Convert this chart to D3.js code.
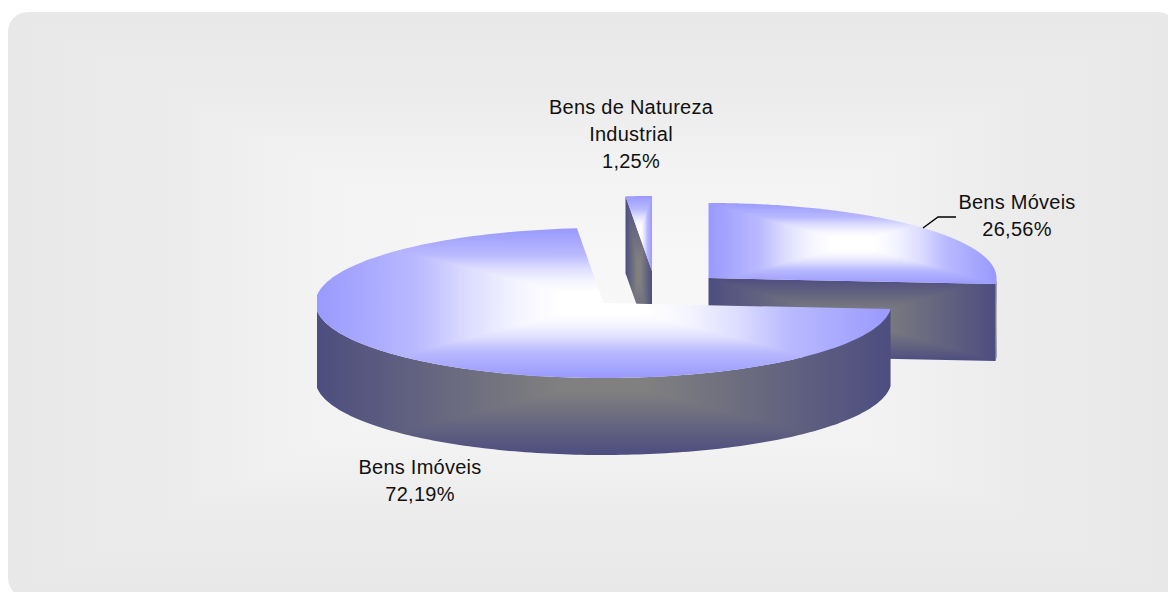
<!DOCTYPE html>
<html>
<head>
<meta charset="utf-8">
<script src="https://cdnjs.cloudflare.com/ajax/libs/d3/7.8.5/d3.min.js"></script>
<style>
html, body { margin: 0; padding: 0; background: #fff; }
svg { display: block; }
text { font-family: "Liberation Sans", Arial, sans-serif; font-size: 20px; letter-spacing: .25px; fill: #111; }
</style>
</head>
<body>
<script>
// chart values, pie order is clockwise from 12 o'clock
var categories = ["Bens Móveis", "Bens Imóveis", "Bens de Natureza Industrial"];
var percents = [26.56, 72.19, 1.25];
var labelLines = [["Bens Móveis"], ["Bens Imóveis"], ["Bens de Natureza", "Industrial"]];

var width = 1168;
var height = 592;
var rx = 288, ry = 75, depth = 77;

// where each exploded slice has its apex, and where its label goes
var apex = [[708.5, 278], [603.5, 303], [652, 271]];
var labelPos = [[1017, 209], [420, 474], [631, 114]];

var svg = d3.select("body").append("svg")
	.attr("width", width)
	.attr("height", height);

var defs = svg.append("defs");

// "from centre" fill: four triangles fading from the bbox edges to the middle
function boxFill(id, stops) {
	var sides = [
		{ pts: "0,0 .5,.5 0,1", x1: 0, y1: 0, x2: .5, y2: 0 },
		{ pts: "1,0 .5,.5 1,1", x1: 1, y1: 0, x2: .5, y2: 0 },
		{ pts: "0,0 .5,.5 1,0", x1: 0, y1: 0, x2: 0, y2: .5 },
		{ pts: "0,1 .5,.5 1,1", x1: 0, y1: 1, x2: 0, y2: .5 }
	];
	var pattern = defs.append("pattern")
		.attr("id", id)
		.attr("patternUnits", "objectBoundingBox")
		.attr("patternContentUnits", "objectBoundingBox")
		.attr("width", 1)
		.attr("height", 1);
	sides.forEach(function(s, i) {
		var grad = defs.append("linearGradient")
			.attr("id", id + "-g" + i)
			.attr("gradientUnits", "userSpaceOnUse")
			.attr("x1", s.x1).attr("y1", s.y1)
			.attr("x2", s.x2).attr("y2", s.y2);
		stops.forEach(function(st) {
			grad.append("stop").attr("offset", st[0]).attr("stop-color", st[1]);
		});
		pattern.append("polygon")
			.attr("points", s.pts)
			.attr("shape-rendering", "crispEdges")
			.attr("fill", "url(#" + id + "-g" + i + ")");
	});
}

boxFill("panel", [[0, "#e8e8e8"], [0.3, "#ececec"], [0.5, "#f2f2f2"], [0.8, "#f6f6f6"], [1, "#f8f8f8"]]);
boxFill("top", [[0, "#9999ff"], [0.35, "#b9b9ff"], [0.53, "#dcdcff"], [0.7, "#f4f4ff"], [0.85, "#ffffff"], [1, "#ffffff"]]);
boxFill("side", [[0, "#4d4d80"], [0.85, "#808080"], [1, "#808080"]]);

defs.append("clipPath").attr("id", "pieClip")
	.append("rect")
	.attr("x", 317).attr("y", 0)
	.attr("width", 680).attr("height", height);

svg.append("rect")
	.attr("x", 8).attr("y", 12)
	.attr("width", 1170).attr("height", 586)
	.attr("rx", 20)
	.attr("fill", "url(#panel)");

var pie = d3.pie().sort(null);
var arcs = pie(percents);

var line = d3.line();

// the original's 3D view opens angles up a little around 12 o'clock
function rim(c, a) {
	var v = a + 0.087 * Math.sin(2 * a);
	return [c[0] + rx * Math.sin(v), c[1] - ry * Math.cos(v)];
}

function arcPoints(c, a0, a1) {
	return d3.range(0, 1.0001, 1 / 180).map(function(t) {
		return rim(c, a0 + (a1 - a0) * t);
	});
}

function dropped(pts) {
	return pts.map(function(p) { return [p[0], p[1] + depth]; }).reverse();
}

// back to front
var drawOrder = [2, 0, 1];
var pieGroup = svg.append("g").attr("clip-path", "url(#pieClip)");

drawOrder.forEach(function(i) {
	var d = arcs[i];
	var c = apex[i];
	var g = pieGroup.append("g").attr("class", "slice");

	// outer wall, only the part on the front half of the ellipse
	var w0 = Math.max(d.startAngle, Math.PI / 2);
	var w1 = Math.min(d.endAngle, 3 * Math.PI / 2);
	if (w1 > w0) {
		var wall = arcPoints(c, w0, w1);
		g.append("path")
			.attr("d", line(wall.concat(dropped(wall))) + "Z")
			.attr("fill", "url(#side)");
	}

	// cut faces that turn toward the viewer
	if (d.endAngle < Math.PI) {
		var cutEnd = [c, rim(c, d.endAngle)];
		g.append("path")
			.attr("d", line(cutEnd.concat(dropped(cutEnd))) + "Z")
			.attr("fill", "url(#side)");
	}
	if (d.startAngle > Math.PI) {
		var cutStart = [rim(c, d.startAngle), c];
		g.append("path")
			.attr("d", line(cutStart.concat(dropped(cutStart))) + "Z")
			.attr("fill", "url(#side)");
	}

	g.append("path")
		.attr("d", line([c].concat(arcPoints(c, d.startAngle, d.endAngle))) + "Z")
		.attr("fill", "url(#top)");
});

// leader line for Bens Móveis
svg.append("path")
	.attr("d", line([[923, 228], [938, 217], [956, 217]]))
	.attr("fill", "none")
	.attr("stroke", "#000")
	.attr("stroke-width", 1.4);

categories.forEach(function(name, i) {
	var t = svg.append("text")
		.attr("x", labelPos[i][0])
		.attr("y", labelPos[i][1])
		.attr("text-anchor", "middle");
	var lines = labelLines[i].concat([percents[i].toFixed(2).replace(".", ",") + "%"]);
	lines.forEach(function(str, k) {
		t.append("tspan")
			.attr("x", labelPos[i][0])
			.attr("dy", k === 0 ? 0 : 27)
			.text(str);
	});
});
</script>
</body>
</html>
